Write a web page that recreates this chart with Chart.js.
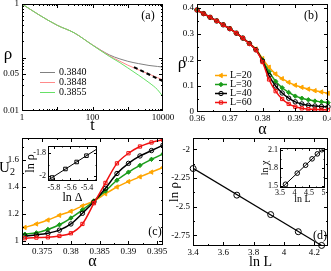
<!DOCTYPE html>
<html>
<head>
<meta charset="utf-8">
<script src="https://cdn.jsdelivr.net/npm/chart.js@4/dist/chart.umd.min.js"></script>
<style>
html, body { margin: 0; padding: 0; background: #fff; overflow: hidden; }
body { width: 331px; height: 271px; position: relative; }
.tag { position: absolute; z-index: 5; font-family: 'Liberation Serif', serif; color: #000;
       white-space: nowrap; line-height: 1; transform: translate(-50%, -50%); }
.tag sub { font-size: 10px; vertical-align: -3px; }
</style>
</head>
<body>
<div id="wrap"></div>
<div class="tag" style="left:8px;top:53px;font-size:17px">ρ</div>
<div class="tag" style="left:182px;top:62px;font-size:17px">ρ</div>
<div class="tag" style="left:7px;top:168px;font-size:15px">U<sub>2</sub></div>
<div class="tag" style="left:148px;top:15px;font-size:12px">(a)</div>
<div class="tag" style="left:311px;top:15px;font-size:12px">(b)</div>
<div class="tag" style="left:155px;top:231px;font-size:12px">(c)</div>
<div class="tag" style="left:320px;top:235px;font-size:12px">(d)</div>
<script>
// ---------- (a) rho(t), log-log ----------
const aTime  = [1, 3, 10, 30, 100, 300, 600, 1000, 2000, 4000, 7000, 10000];
const a3840  = [1, 0.63, 0.40, 0.29, 0.172, 0.112, 0.094, 0.085, 0.077, 0.071, 0.068, 0.066];
const a3848  = [1, 0.63, 0.40, 0.29, 0.171, 0.108, 0.085, 0.072, 0.059, 0.049, 0.042, 0.038];
const a3855  = [1, 0.63, 0.40, 0.29, 0.170, 0.105, 0.080, 0.064, 0.047, 0.034, 0.025, 0.0185];
const aFitT  = [1500, 10000];
const aFitRho = [0.066, 0.036];
const aXTicks = [1, 10, 100, 1000, 10000];
const aXLabels = ['1', '', '100', '', '10000'];
const aYTicks = [0.01, 0.05, 0.1, 1];
const aYLabels = ['0.01', '0.05', '', '1'];

// ---------- (b) rho(alpha) for several L ----------
const bAlpha = [0.360, 0.362, 0.364, 0.366, 0.368, 0.370, 0.372, 0.374, 0.376, 0.378, 0.380,
                0.382, 0.384, 0.386, 0.388, 0.390, 0.392, 0.394, 0.396, 0.398, 0.400];
const bL20 = [0.392, 0.378, 0.364, 0.350, 0.335, 0.320, 0.303, 0.284, 0.264, 0.242, 0.205,
              0.172, 0.146, 0.128, 0.114, 0.103, 0.095, 0.088, 0.082, 0.077, 0.072];
const bL30 = [0.392, 0.378, 0.364, 0.350, 0.335, 0.320, 0.303, 0.284, 0.263, 0.240, 0.200,
              0.155, 0.118, 0.093, 0.075, 0.061, 0.053, 0.047, 0.042, 0.039, 0.036];
const bL40 = [0.392, 0.378, 0.364, 0.350, 0.335, 0.320, 0.303, 0.284, 0.263, 0.239, 0.196,
              0.140, 0.100, 0.073, 0.053, 0.039, 0.031, 0.026, 0.023, 0.021, 0.020];
const bL60 = [0.392, 0.378, 0.364, 0.350, 0.335, 0.320, 0.303, 0.284, 0.262, 0.238, 0.192,
              0.125, 0.080, 0.050, 0.031, 0.020, 0.014, 0.011, 0.010, 0.009, 0.008];
const bXTicks = [0.36, 0.37, 0.38, 0.39, 0.40];
const bXLabels = ['0.36', '0.37', '0.38', '0.39', '0.4'];
const bYTicks = [0, 0.1, 0.2, 0.3, 0.4];
const bYLabels = ['0', '0.1', '0.2', '0.3', '0.4'];

// ---------- (c) Binder cumulant U2(alpha) ----------
const cAlpha = [0.372, 0.374, 0.376, 0.378, 0.380, 0.382, 0.384, 0.386, 0.388, 0.390, 0.392, 0.394, 0.396];
const cL20 = [1.100, 1.126, 1.155, 1.190, 1.220, 1.260, 1.296, 1.350, 1.400, 1.440, 1.475, 1.510, 1.545];
const cL30 = [1.050, 1.060, 1.085, 1.120, 1.170, 1.230, 1.296, 1.370, 1.450, 1.510, 1.560, 1.605, 1.645];
const cL40 = [1.037, 1.045, 1.057, 1.080, 1.126, 1.205, 1.290, 1.390, 1.500, 1.575, 1.630, 1.670, 1.710];
const cL60 = [1.020, 1.025, 1.027, 1.037, 1.057, 1.126, 1.280, 1.430, 1.575, 1.650, 1.700, 1.730, 1.750];
const cXTicks = [0.375, 0.38, 0.385, 0.39, 0.395];
const cXLabels = ['0.375', '0.38', '0.385', '0.39', '0.395'];
const cYTicks = [1, 1.2, 1.4, 1.6];
const cYLabels = ['1', '1.2', '1.4', '1.6'];
// inset: ln rho vs ln Delta
const ciLnDelta = [-5.82, -5.66, -5.525, -5.407];
const ciLnRho   = [-2.01, -1.937, -1.877, -1.823];
const ciFitX = [-5.86, -5.29];
const ciFitY = [-2.028, -1.77];
const ciXTicks = [-5.8, -5.6, -5.4];
const ciXLabels = ['-5.8', '-5.6', '-5.4'];
const ciYTicks = [-2, -1.8];
const ciYLabels = ['-2', '-1.8'];

// ---------- (d) ln rho vs ln L ----------
const dLnL   = [3.401, 3.689, 3.912, 4.094, 4.248];
const dLnRho = [-2.167, -2.40, -2.57, -2.72, -2.84];
const dFitX = [3.401, 4.248];
const dFitY = [-2.165, -2.84];
const dXTicks = [3.4, 3.6, 3.8, 4.0, 4.2];
const dXLabels = ['3.4', '3.6', '3.8', '4', '4.2'];
const dYTicks = [-2.75, -2.5, -2.25, -2];
const dYLabels = ['-2.75', '-2.5', '-2.25', '-2'];
// inset: ln chi vs ln L
const diLnL   = [3.689, 4.094, 4.382, 4.605, 4.787, 4.942];
const diLnChi = [1.532, 1.715, 1.846, 1.951, 2.033, 2.101];
const diFitX = [3.5, 5.0];
const diFitY = [1.446, 2.128];
const diXTicks = [3.5, 4, 4.5, 5];
const diXLabels = ['3.5', '4', '4.5', '5'];
const diYTicks = [1.5, 1.8, 2.1];
const diYLabels = ['1.5', '1.8', '2.1'];

const ORANGE = '#ffa500', GREEN = '#1a9c1a', RED = '#f01010';

Chart.defaults.font.family = "'Liberation Serif', 'Times New Roman', serif";
Chart.defaults.color = '#000';

// frame + inward ticks on all four sides (grace style)
const frameTicks = {
  id: 'frameTicks',
  beforeDraw(chart, args, o) {
    if (!o.bg) return;
    const a = chart.chartArea, ctx = chart.ctx;
    ctx.save(); ctx.fillStyle = '#fff';
    ctx.fillRect(a.left, a.top, a.width, a.height);
    ctx.restore();
  },
  afterDatasetsDraw(chart, args, o) {
    const {ctx, chartArea: a, scales} = chart;
    const len = o.len || 4;
    ctx.save();
    ctx.strokeStyle = '#000'; ctx.lineWidth = 1; ctx.setLineDash([]);
    ctx.strokeRect(a.left + 0.5, a.top + 0.5, a.width - 1, a.height - 1);
    const mark = (sc, v, l) => {
      const p = Math.round(sc.getPixelForValue(v)) + 0.5;
      ctx.beginPath();
      if (sc.isHorizontal()) {
        if (p < a.left || p > a.right) return;
        ctx.moveTo(p, a.bottom); ctx.lineTo(p, a.bottom - l);
        ctx.moveTo(p, a.top); ctx.lineTo(p, a.top + l);
      } else {
        if (p < a.top || p > a.bottom) return;
        ctx.moveTo(a.left, p); ctx.lineTo(a.left + l, p);
        ctx.moveTo(a.right, p); ctx.lineTo(a.right - l, p);
      }
      ctx.stroke();
    };
    ['x', 'y'].forEach(k => {
      const sc = scales[k];
      sc.ticks.forEach(t => mark(sc, t.value, len));
      (o[k + 'Minor'] || []).forEach(v => mark(sc, v, len / 2));
    });
    ctx.restore();
  }
};

// legend rows drawn inside the plot: short line, marker, text
const lineLegend = {
  id: 'lineLegend',
  afterDatasetsDraw(chart, args, o) {
    if (!o.len) return;
    const {ctx, chartArea: a} = chart;
    ctx.save();
    ctx.font = o.font;
    ctx.textBaseline = 'middle';
    let row = 0;
    chart.data.datasets.forEach(ds => {
      if (!ds.label) return;
      const y = Math.round(a.top + o.y + row * o.dy) + 0.5;
      const x0 = a.left + o.x, x1 = x0 + o.len;
      ctx.setLineDash([]);
      ctx.strokeStyle = ds.borderColor; ctx.lineWidth = ds.borderWidth;
      ctx.beginPath(); ctx.moveTo(x0, y); ctx.lineTo(x1, y); ctx.stroke();
      if (ds.pointRadius) {
        ctx.fillStyle = ds.pointBackgroundColor; ctx.strokeStyle = ds.pointBorderColor; ctx.lineWidth = 1;
        Chart.helpers.drawPoint(ctx, {pointStyle: ds.pointStyle, radius: ds.pointRadius,
          rotation: ds.pointRotation || 0, borderWidth: 1}, (x0 + x1) / 2, y);
      }
      ctx.fillStyle = '#000';
      ctx.fillText(ds.label, x1 + o.gap, y);
      row++;
    });
    ctx.restore();
  }
};
Chart.register(frameTicks, lineLegend);

const pts = (xs, ys) => xs.map((x, i) => ({x, y: ys[i]}));

function axis(type, min, max, ticks, labels, size, pad, title, tsize) {
  return {
    type, min, max,
    grid: {display: false, drawTicks: false},
    border: {display: false},
    afterBuildTicks: s => { s.ticks = ticks.map(v => ({value: v})); },
    ticks: {autoSkip: false, maxRotation: 0, minRotation: 0, padding: pad,
            font: {size}, color: '#000', callback: (v, i) => labels[i]},
    title: title ? {display: true, text: title, color: '#000', font: {size: tsize}, padding: 0}
                 : {display: false}
  };
}

// place a chart so its plot area lands on `area` = [left, top, right, bottom]
function panel(area, axw, axh, datasets, scales, plugins) {
  const P = 14;
  const w = area[2] - area[0] + axw + 2 * P, h = area[3] - area[1] + axh + 2 * P;
  const c = document.createElement('canvas');
  c.width = w; c.height = h;
  c.style.cssText = `position:absolute;left:${area[0] - axw - P}px;top:${area[1] - P}px;width:${w}px;height:${h}px`;
  document.getElementById('wrap').appendChild(c);
  scales.x.afterFit = s => { s.height = axh; };
  scales.y.afterFit = s => { s.width = axw; };
  return new Chart(c, {
    type: 'line',
    data: {datasets},
    options: {
      responsive: false, animation: false, devicePixelRatio: 1, events: [],
      layout: {padding: P},
      scales,
      plugins: Object.assign({legend: {display: false}, tooltip: {enabled: false}}, plugins)
    }
  });
}

function curve(label, xs, ys, color, style, r, fill, order) {
  return {label, data: pts(xs, ys), borderColor: color, borderWidth: 1.5, tension: 0.3,
          pointStyle: style, pointRadius: r, pointBorderWidth: 1,
          pointBorderColor: color, pointBackgroundColor: fill ? color : 'rgba(0,0,0,0)',
          pointRotation: style === 'triangle' ? -90 : 0, order, clip: false};
}

// (a)
panel([22, 4, 163, 111], 22, 24, [
  {label: '0.3840', data: pts(aTime, a3840), borderColor: '#808080', borderWidth: 1, pointRadius: 0, cubicInterpolationMode: 'monotone', order: 3},
  {label: '0.3848', data: pts(aTime, a3848), borderColor: '#ff8a8a', borderWidth: 1, pointRadius: 0, cubicInterpolationMode: 'monotone', order: 2},
  {label: '0.3855', data: pts(aTime, a3855), borderColor: '#66e066', borderWidth: 1, pointRadius: 0, cubicInterpolationMode: 'monotone', order: 1},
  {data: pts(aFitT, aFitRho), borderColor: '#000', borderWidth: 2, borderDash: [4, 3], pointRadius: 0, order: 0}
], {
  x: axis('logarithmic', 1, 10000, aXTicks, aXLabels, 9, 1, 't', 16),
  y: axis('logarithmic', 0.01, 1, aYTicks, aYLabels, 9, 3)
}, {
  frameTicks: {xMinor: [2,3,4,5,6,7,8,9,20,30,40,50,60,70,80,90,200,300,400,500,600,700,800,900,2000,3000,4000,5000,6000,7000,8000,9000],
               yMinor: [0.02,0.03,0.04,0.06,0.07,0.08,0.09,0.2,0.3,0.4,0.5,0.6,0.7,0.8,0.9]},
  lineLegend: {x: 18, y: 68, dy: 10, len: 15, gap: 4, font: "10px 'Liberation Serif'"}
});

// (b)
panel([197, 4, 328, 112], 16, 27, [
  curve('L=20', bAlpha, bL20, ORANGE, 'triangle', 2.5, true, 4),
  curve('L=30', bAlpha, bL30, GREEN, 'rectRot', 2.2, true, 3),
  curve('L=40', bAlpha, bL40, '#000', 'circle', 2.2, false, 2),
  curve('L=60', bAlpha, bL60, RED, 'rect', 2.3, false, 1)
], {
  x: axis('linear', 0.36, 0.4, bXTicks, bXLabels, 9, 1, 'α', 16),
  y: axis('linear', 0, 0.415, bYTicks, bYLabels, 9, 3)
}, {
  frameTicks: {xMinor: [0.365, 0.375, 0.385, 0.395], yMinor: [0.05, 0.15, 0.25, 0.35]},
  lineLegend: {x: 18, y: 71, dy: 9, len: 12, gap: 3, font: "10px 'Liberation Serif'"}
});

// (c)
panel([22, 138, 163, 245], 22, 26, [
  curve('', cAlpha, cL20, ORANGE, 'triangle', 2.5, true, 4),
  curve('', cAlpha, cL30, GREEN, 'rectRot', 2.2, true, 3),
  curve('', cAlpha, cL40, '#000', 'circle', 2.2, false, 2),
  curve('', cAlpha, cL60, RED, 'rect', 2.3, false, 1)
].map(d => Object.assign(d, {clip: 0})), {
  x: axis('linear', 0.3715, 0.396, cXTicks, cXLabels, 9, 1, 'α', 16),
  y: axis('linear', 0.97, 1.763, cYTicks, cYLabels, 9, 3)
}, {
  frameTicks: {xMinor: [0.3725, 0.3775, 0.3825, 0.3875, 0.3925], yMinor: [1.1, 1.3, 1.5, 1.7]}
});

// (c) inset
panel([48, 146, 97, 181], 24, 24, [
  {data: pts(ciFitX, ciFitY), borderColor: '#000', borderWidth: 1, pointRadius: 0},
  {data: pts(ciLnDelta, ciLnRho), showLine: false, pointStyle: 'rect', pointRadius: 2.5,
   pointBorderColor: '#000', pointBackgroundColor: 'rgba(0,0,0,0)', pointBorderWidth: 1}
], {
  x: axis('linear', -5.87, -5.28, ciXTicks, ciXLabels, 8, 2, 'ln Δ', 12),
  y: axis('linear', -2.04, -1.74, ciYTicks, ciYLabels, 8, 2, 'ln ρ', 12)
}, {
  frameTicks: {bg: true, len: 3, xMinor: [-5.7, -5.5, -5.3], yMinor: [-1.9]}
});

// (d)
panel([193, 138, 328, 246], 26, 25, [
  {data: pts(dFitX, dFitY), borderColor: '#000', borderWidth: 1.2, pointRadius: 0},
  {data: pts(dLnL, dLnRho), showLine: false, pointStyle: 'circle', pointRadius: 3,
   pointBorderColor: '#000', pointBackgroundColor: 'rgba(0,0,0,0)', pointBorderWidth: 1, clip: false}
], {
  x: axis('linear', 3.4, 4.29, dXTicks, dXLabels, 9, 1, 'ln L', 14),
  y: axis('linear', -2.845, -1.9, dYTicks, dYLabels, 9, 3, 'ln ρ', 13)
}, {
  frameTicks: {xMinor: [3.5, 3.7, 3.9, 4.1], yMinor: [-2.625, -2.375, -2.125]}
});

// (d) inset
panel([280, 148, 325, 188], 21, 17, [
  {data: pts(diFitX, diFitY), borderColor: '#000', borderWidth: 1, pointRadius: 0},
  {data: pts(diLnL, diLnChi), showLine: false, pointStyle: 'circle', pointRadius: 2.3,
   pointBorderColor: '#000', pointBackgroundColor: 'rgba(0,0,0,0)', pointBorderWidth: 1}
], {
  x: axis('linear', 3.5, 5.05, diXTicks, diXLabels, 8, 0, 'ln L', 10),
  y: axis('linear', 1.47, 2.13, diYTicks, diYLabels, 8, 2, 'ln χ', 10)
}, {
  frameTicks: {bg: true, len: 3, xMinor: [3.75, 4.25, 4.75], yMinor: [1.65, 1.95]}
});
</script>
</body>
</html>
